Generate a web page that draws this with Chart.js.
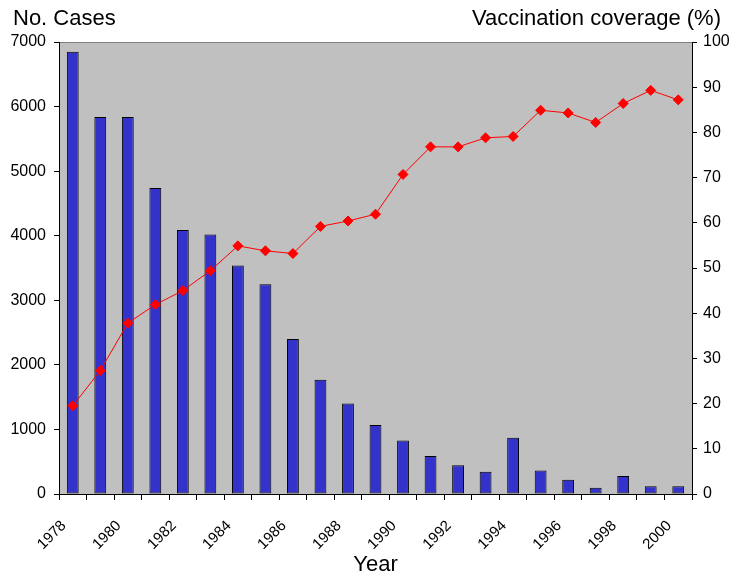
<!DOCTYPE html>
<html>
<head>
<meta charset="utf-8">
<script src="https://cdn.jsdelivr.net/npm/chart.js@4.4.1/dist/chart.umd.min.js"></script>
<style>
  body { margin: 0; background: #fff; }
</style>
</head>
<body>
<canvas id="myChart" width="746" height="578"></canvas>
<script>
// data
const years = ['1978','1979','1980','1981','1982','1983','1984','1985','1986','1987','1988','1989',
               '1990','1991','1992','1993','1994','1995','1996','1997','1998','1999','2000'];
const cases = [6850, 5840, 5840, 4740, 4090, 4020, 3540, 3250, 2400, 1770, 1400, 1070,
               830, 590, 445, 345, 870, 365, 220, 95, 280, 120, 120];
const coverage = [19.5, 27.3, 37.8, 41.9, 45.0, 49.4, 54.9, 53.8, 53.2, 59.2, 60.4, 61.9,
                  70.7, 76.8, 76.8, 78.8, 79.1, 84.9, 84.3, 82.2, 86.4, 89.3, 87.2];
const leftTitle = 'No. Cases';
const rightTitle = 'Vaccination coverage (%)';
const xTitle = 'Year';

const FONT = '"Liberation Sans", Arial, sans-serif';

// grey plot background + the titles sitting above the two axes
const chartDeco = {
  id: 'chartDeco',
  beforeDraw(chart) {
    const a = chart.chartArea, c = chart.ctx;
    c.save();
    c.fillStyle = '#C0C0C0';
    c.fillRect(a.left, a.top, a.right - a.left, a.bottom - a.top);
    c.strokeStyle = '#808080';
    c.lineWidth = 1;
    c.beginPath();
    c.moveTo(a.left, a.top + 0.5);
    c.lineTo(a.right, a.top + 0.5);
    c.stroke();
    c.restore();
  },
  afterDraw(chart) {
    const a = chart.chartArea, c = chart.ctx;
    c.save();
    c.fillStyle = '#000';
    c.font = '22px ' + FONT;
    c.textBaseline = 'alphabetic';
    c.textAlign = 'left';
    c.fillText(leftTitle, a.left - 46, a.top - 17);
    c.textAlign = 'right';
    c.fillText(rightTitle, a.right + 29, a.top - 17);
    c.restore();
  }
};

const ctx = document.getElementById('myChart').getContext('2d');
const myChart = new Chart(ctx, {
  data: {
    labels: years,
    datasets: [{
      type: 'line',
      label: 'Coverage',
      data: coverage,
      yAxisID: 'y1',
      borderColor: '#FF0000',
      borderWidth: 1,
      pointStyle: 'rectRot',
      pointRadius: 5,
      pointBackgroundColor: '#FF0000',
      pointBorderColor: '#FF0000',
      order: 0
    }, {
      type: 'bar',
      label: 'Cases',
      data: cases,
      yAxisID: 'y',
      backgroundColor: '#3333CC',
      borderColor: '#000',
      borderWidth: 1,
      borderSkipped: false,
      barPercentage: 0.43,
      categoryPercentage: 1,
      order: 1
    }]
  },
  options: {
    responsive: false,
    animation: false,
    layout: { padding: { top: 42, left: 0, right: 0, bottom: 0 } },
    plugins: { legend: { display: false }, tooltip: { enabled: false } },
    scales: {
      x: {
        offset: true,
        grid: { offset: true, drawOnChartArea: false, drawTicks: true, tickLength: 6, color: '#000' },
        border: { color: '#000', width: 1 },
        ticks: {
          autoSkip: false,
          minRotation: 45,
          maxRotation: 45,
          padding: 17,
          labelOffset: -9,
          color: '#000',
          font: { family: FONT, size: 15 },
          callback: function(val, i) { return i % 2 === 0 ? this.getLabelForValue(val) : ''; }
        },
        title: { display: true, text: xTitle, color: '#000', font: { family: FONT, size: 22 }, padding: { top: 0, bottom: 0 } },
        afterFit: s => { s.height = 84; }
      },
      y: {
        position: 'left',
        min: 0, max: 7000,
        ticks: { stepSize: 1000, color: '#000', padding: 8, font: { family: FONT, size: 16 }, callback: v => String(v) },
        grid: { drawOnChartArea: false, tickLength: 5, color: '#000' },
        border: { color: '#000', width: 1 },
        afterFit: s => { s.width = 59; }
      },
      y1: {
        position: 'right',
        min: 0, max: 100,
        ticks: { stepSize: 10, color: '#000', padding: 6, font: { family: FONT, size: 16 }, callback: v => String(v) },
        grid: { drawOnChartArea: false, tickLength: 5, color: '#000' },
        border: { color: '#000', width: 1 },
        afterFit: s => { s.width = 54; }
      }
    }
  },
  plugins: [chartDeco]
});
</script>
</body>
</html>
